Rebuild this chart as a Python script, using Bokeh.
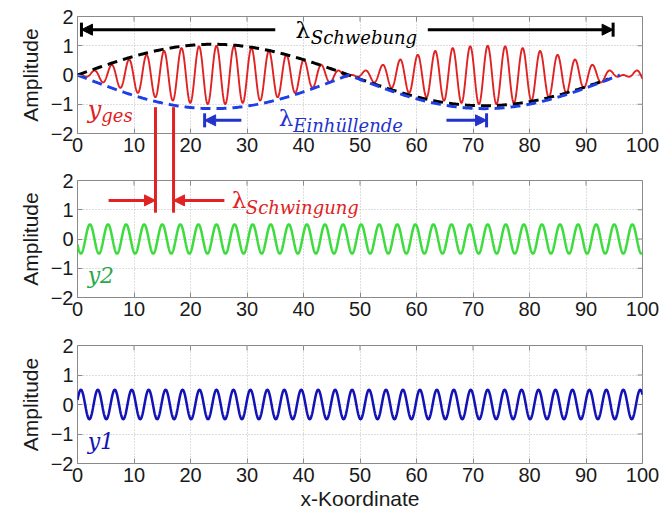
import numpy as np
from bokeh.plotting import figure
from bokeh.layouts import column
from bokeh.models import Range1d, FixedTicker, Arrow, NormalHead
from bokeh.core.properties import value
from bokeh.embed import file_html
from bokeh.resources import INLINE

# --- wave parameters -------------------------------------------------------
x_limits = [0, 100]
y_limits = [-2, 2]
amplitude = 0.5            # amplitude of y1 and y2
wavelength_y1 = 3.0        # wavelength of y1
wavelength_y2 = 3.2        # wavelength of y2
crest_shift = 0.6          # x position of the first crest of y1
n_samples = 2001

# hand-drawn envelope curves (amplitude, end of the dashed line)
envelope_upper_amp = 1.05
envelope_upper_end = 94.0
envelope_lower_amp = 1.15
envelope_lower_end = 96.0

# marked distances
schwebung_span = [0.7, 94.8]
einhuellende_span = [22.5, 72.4]
schwingung_span = [13.8, 17.0]

x_ticks = [0, 10, 20, 30, 40, 50, 60, 70, 80, 90, 100]
y_ticks = [-2, -1, 0, 1, 2]

# --- signals ----------------------------------------------------------------
x = np.linspace(x_limits[0], x_limits[1], n_samples)
y1 = amplitude * np.cos(2 * np.pi * (x - crest_shift) / wavelength_y1)
y2 = -amplitude * np.cos(2 * np.pi * (x - crest_shift) / wavelength_y2)
y_ges = y1 + y2

# half beat length from the two wavelengths
half_beat = 1.0 / (1.0 / wavelength_y1 - 1.0 / wavelength_y2)
xu = np.linspace(0, envelope_upper_end, 400)
env_upper = envelope_upper_amp * np.sin(np.pi * xu / half_beat)
xl = np.linspace(0, envelope_lower_end, 400)
env_lower = -envelope_lower_amp * np.abs(np.sin(np.pi * xl / half_beat))

RED = "#e02222"
GREEN_LINE = "#3ddc3d"
GREEN_TEXT = "#2aa84a"
BLUE_LINE = "#1212b8"
BLUE_DASH = "#1f3fe6"
BLUE_TEXT = "#2233cc"
BOX = "#8a8a8a"
SANS = "Liberation Sans"
SERIF = "DejaVu Serif"

FRAME_W, FRAME_H = 565, 117
TICK_PX = 5


def panel(height, border_top, border_bottom, xlabel=None):
    p = figure(width=668, height=height, output_backend="svg", toolbar_location=None,
               x_range=Range1d(*x_limits), y_range=Range1d(*y_limits),
               min_border_left=77, min_border_right=26,
               min_border_top=border_top, min_border_bottom=border_bottom,
               background_fill_color="white", border_fill_color="white")
    p.outline_line_color = BOX
    p.outline_line_width = 1
    p.xaxis.ticker = FixedTicker(ticks=x_ticks)
    p.yaxis.ticker = FixedTicker(ticks=y_ticks)
    for ax in (p.xaxis[0], p.yaxis[0]):
        ax.axis_line_color = None
        ax.major_tick_in = TICK_PX
        ax.major_tick_out = 0
        ax.major_tick_line_color = BOX
        ax.minor_tick_line_color = None
        ax.major_label_text_font = SANS
        ax.major_label_text_font_size = "20px"
        ax.major_label_text_color = "#1a1a1a"
        ax.axis_label_text_font = SANS
        ax.axis_label_text_font_size = "21px"
        ax.axis_label_text_font_style = "normal"
        ax.axis_label_text_color = "#1a1a1a"
    p.xaxis.major_label_standoff = 4
    p.yaxis.major_label_standoff = 4
    p.yaxis.axis_label = "Amplitude"
    p.yaxis.axis_label_standoff = 6
    if xlabel:
        p.xaxis.axis_label = xlabel
        p.xaxis.axis_label_standoff = 2
    # inward tick marks along the top and right edges of the box
    dy = TICK_PX * (y_limits[1] - y_limits[0]) / FRAME_H
    dx = TICK_PX * (x_limits[1] - x_limits[0]) / FRAME_W
    p.segment(x0=x_ticks, x1=x_ticks, y0=[y_limits[1]] * len(x_ticks),
              y1=[y_limits[1] - dy] * len(x_ticks), line_color=BOX, line_width=1)
    p.segment(x0=[x_limits[1]] * len(y_ticks), x1=[x_limits[1] - dx] * len(y_ticks),
              y0=y_ticks, y1=y_ticks, line_color=BOX, line_width=1)
    p.grid.grid_line_color = "#bdbdbd"
    p.grid.grid_line_dash = "1 2"
    p.grid.grid_line_width = 1
    p.xgrid.ticker = FixedTicker(ticks=x_ticks)
    p.ygrid.ticker = FixedTicker(ticks=y_ticks)
    return p


def label(p, xpos, ypos, txt, color, size, style="italic"):
    p.text(x=[xpos], y=[ypos], text=[txt], text_color=color,
           text_font=value(SERIF), text_font_size=f"{size}px",
           text_font_style=style, text_align="left", text_baseline="middle",
           level="overlay")


def arrow(p, x0, x1, ypos, color):
    p.add_layout(Arrow(x_start=x0, y_start=ypos, x_end=x1, y_end=ypos,
                       line_color=color, line_width=3,
                       end=NormalHead(size=11, fill_color=color, line_color=color)))


# --- top: superposition -----------------------------------------------------
p_top = panel(165, 16, 32)
p_top.line(x, y_ges, line_color=RED, line_width=1.9)
p_top.line(xu, env_upper, line_color="black", line_width=3, line_dash="10 6")
p_top.line(xl, env_lower, line_color=BLUE_DASH, line_width=3, line_dash="10 6")

y_sw = 1.55
arrow(p_top, 35.0, schwebung_span[0], y_sw, "black")
arrow(p_top, 62.0, schwebung_span[1], y_sw, "black")
p_top.segment(x0=schwebung_span, y0=[y_sw - 0.24] * 2, x1=schwebung_span,
              y1=[y_sw + 0.24] * 2, line_color="black", line_width=3, level="overlay")
label(p_top, 38.6, 1.55, "λ", "black", 23, "normal")
label(p_top, 41.3, 1.27, "Schwebung", "black", 18)

y_eh = -1.55
arrow(p_top, 29.0, einhuellende_span[0], y_eh, BLUE_TEXT)
arrow(p_top, 65.3, einhuellende_span[1], y_eh, BLUE_TEXT)
p_top.segment(x0=einhuellende_span, y0=[y_eh - 0.24] * 2, x1=einhuellende_span,
              y1=[y_eh + 0.24] * 2, line_color=BLUE_TEXT, line_width=3, level="overlay")
label(p_top, 35.6, -1.47, "λ", BLUE_TEXT, 23, "normal")
label(p_top, 38.2, -1.72, "Einhüllende", BLUE_TEXT, 18)

label(p_top, 1.8, -1.2, "y", RED, 24)
label(p_top, 4.2, -1.4, "ges", RED, 18)

# red markers for one oscillation, reaching down into the middle panel
p_top.segment(x0=schwingung_span, y0=[-1.1] * 2, x1=schwingung_span, y1=[-4.0] * 2,
              line_color=RED, line_width=3, level="overlay")

# --- middle: y2 ---------------------------------------------------------------
p_mid = panel(165, 15, 33)
p_mid.line(x, y2, line_color=GREEN_LINE, line_width=2.5)
p_mid.segment(x0=schwingung_span, y0=[4.0] * 2, x1=schwingung_span, y1=[0.9] * 2,
              line_color=RED, line_width=3, level="overlay")
y_sg = 1.32
arrow(p_mid, 5.5, schwingung_span[0], y_sg, RED)
arrow(p_mid, 26.0, schwingung_span[1], y_sg, RED)
label(p_mid, 27.3, 1.32, "λ", RED, 23, "normal")
label(p_mid, 29.8, 1.07, "Schwingung", RED, 18)
label(p_mid, 1.8, -1.25, "y2", GREEN_TEXT, 22)

# --- bottom: y1 ---------------------------------------------------------------
p_bot = panel(183, 15, 50, xlabel="x-Koordinate")
p_bot.line(x, y1, line_color=BLUE_LINE, line_width=2.5)
label(p_bot, 1.8, -1.25, "y1", BLUE_LINE, 22)

layout = column(p_top, p_mid, p_bot, spacing=0)

with open("out.html", "w") as f:
    f.write(file_html(layout, INLINE))
